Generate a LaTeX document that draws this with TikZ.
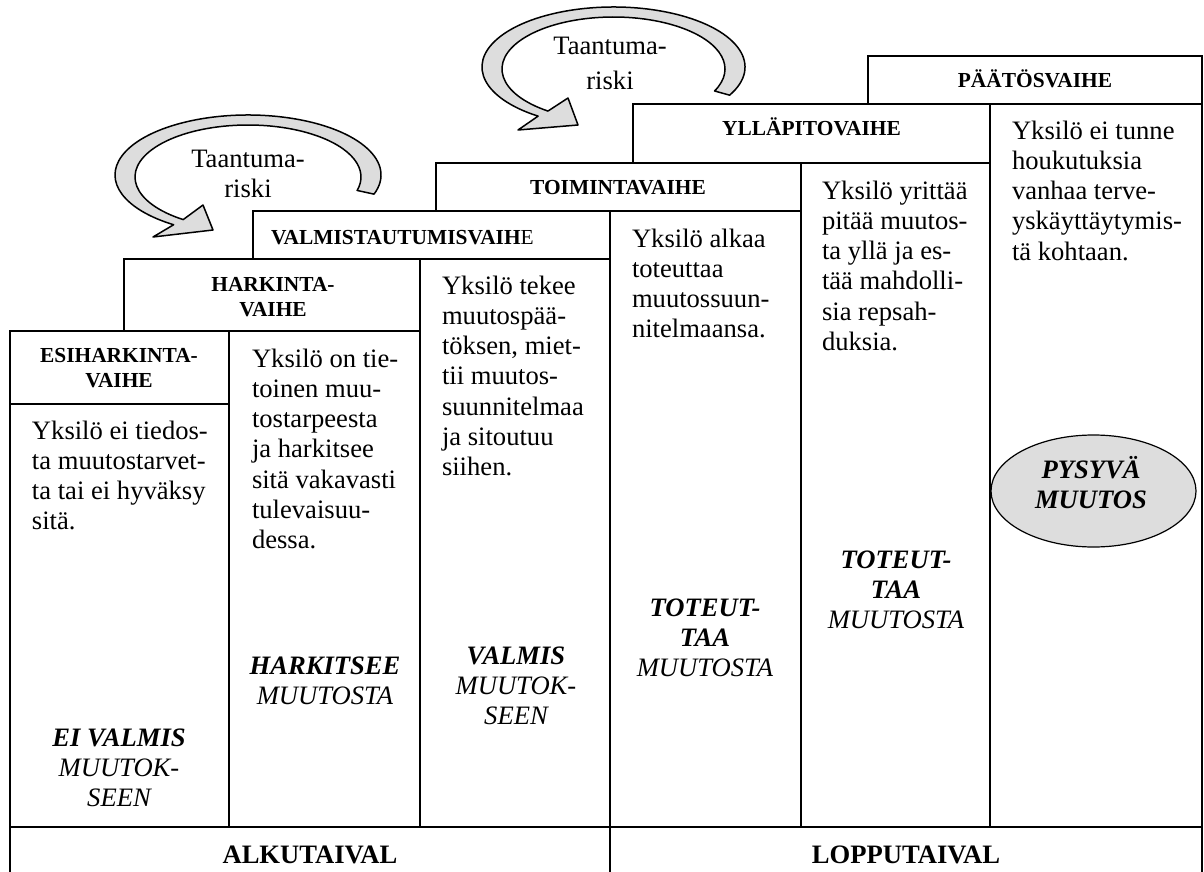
\documentclass[tikz,border=0pt]{standalone}
\usepackage{fontspec}
\setmainfont{Liberation Serif}
\usetikzlibrary{shapes.geometric}
\newcommand\tekstifont{\fontsize{13.3}{15.15}\selectfont}
\newcommand\vaihefont{\fontsize{10.7}{12.5}\selectfont\bfseries}
\newcommand\tuki{\rule{0pt}{12pt}}
\definecolor{riskigray}{RGB}{221,221,221}
\tikzstyle{vaihe} = [anchor=north, align=center, inner sep=0pt, font=\vaihefont]
\tikzstyle{kuvaus} = [anchor=north west, align=left, inner sep=0pt, font=\tekstifont]
\tikzstyle{tila} = [anchor=north, align=center, inner sep=0pt, font=\tekstifont\itshape]
\tikzstyle{taival} = [anchor=base, inner sep=0pt, font=\tekstifont\bfseries]
\tikzstyle{riski} = [draw, line width=0.75pt, fill=riskigray, line join=round]

\begin{document}
\begin{tikzpicture}[x=0.5pt, y=-0.5pt, line width=1pt]
                    \useasboundingbox (0,0) rectangle (1204,872);
                    % vaiheiden laatikot
                    \draw (10,331) rectangle (229,404);
                    \draw (124,259) rectangle (420,331);
                    \draw (253,211) rectangle (610,259);
                    \draw (436,163) rectangle (801,211);
                    \draw (633,104) rectangle (990,163);
                    \draw (868,56) rectangle (1202,104);
                    % sarakkeet ja alarivi
                    \draw (10,404) -- (10,872);
                    \draw (229,404) -- (229,827);
                    \draw (420,331) -- (420,827);
                    \draw (610,259) -- (610,872);
                    \draw (801,211) -- (801,827);
                    \draw (990,163) -- (990,827);
                    \draw (1202,104) -- (1202,872);
                    \draw (10,827) -- (1202,827);

                    \node[vaihe] (esi) at (119,337) {\tuki ESIHARKINTA-\\VAIHE};
                    \node[vaihe] (harkinta) at (273,266) {\tuki HARKINTA-\\VAIHE};
                    \node[vaihe, anchor=north west] (valmistautumis) at (270,219) {\tuki VALMISTAUTUMISVAIH{\mdseries E}};
                    \node[vaihe] (toiminta) at (618,169) {\tuki TOIMINTAVAIHE};
                    \node[vaihe] (yllapito) at (811.5,110) {\tuki YLLÄPITOVAIHE};
                    \node[vaihe] (paatos) at (1035,63) {\tuki PÄÄTÖSVAIHE};

                    \node[kuvaus] (k1) at (31,414) {\tuki Yksilö ei tiedos-\\ta muutostarvet-\\ta tai ei hyväksy\\sitä.};
                    \node[kuvaus] (k2) at (251,342) {\tuki Yksilö on tie-\\toinen muu-\\tostarpeesta\\ja harkitsee\\sitä vakavasti\\tulevaisuu-\\dessa.};
                    \node[kuvaus] (k3) at (441,269) {\tuki Yksilö tekee\\muutospää-\\töksen, miet-\\tii muutos-\\suunnitelmaa\\ja sitoutuu\\siihen.};
                    \node[kuvaus] (k4) at (631,222) {\tuki Yksilö alkaa\\toteuttaa\\muutossuun-\\nitelmaansa.};
                    \node[kuvaus] (k5) at (821,174) {\tuki Yksilö yrittää\\pitää muutos-\\ta yllä ja es-\\tää mahdolli-\\sia repsah-\\duksia.};
                    \node[kuvaus] (k6) at (1011,114) {\tuki Yksilö ei tunne\\houkutuksia\\vanhaa terve-\\yskäyttäytymis-\\tä kohtaan.};

                    \node[tila] (t1) at (119,721) {\tuki\textbf{EI VALMIS}\\MUUTOK-\\SEEN};
                    \node[tila] (t2) at (325,649) {\tuki\textbf{HARKITSEE}\\MUUTOSTA};
                    \node[tila] (t3) at (516,639) {\tuki\textbf{VALMIS}\\MUUTOK-\\SEEN};
                    \node[tila] (t4) at (705,591) {\tuki\textbf{TOTEUT-}\\\textbf{TAA}\\MUUTOSTA};
                    \node[tila] (t5) at (896,543) {\tuki\textbf{TOTEUT-}\\\textbf{TAA}\\MUUTOSTA};
                    \draw[line width=0.6pt, fill=riskigray] (1093.5,491) ellipse [x radius=102.5, y radius=56];
                    \node[tila] (pysyva) at (1091,453) {\tuki\textbf{PYSYVÄ}\\\textbf{MUUTOS}};

                    \node[taival] (alku) at (310,863) {ALKUTAIVAL};
                    \node[taival] (loppu) at (906,863) {LOPPUTAIVAL};

                    % taantumariskin nuolet
                    \draw[riski] ([shift={(248,175)}]18.6:133 and 60) arc[start angle=18.6, end angle=-236, x radius=133, y radius=60]
                        -- (153,237) -- (213,230) -- (203,205)
                        -- ([shift={(248,177)}]-235:113 and 52) arc[start angle=-235, end angle=15, x radius=113, y radius=52] -- cycle;
                    \draw[riski] ([shift={(613.5,67)}]28:131.5 and 60) arc[start angle=28, end angle=-235, x radius=131.5, y radius=60]
                        -- (518,130) -- (578,125) -- (568,98)
                        -- ([shift={(613.5,69)}]-234:111.5 and 52) arc[start angle=-234, end angle=25, x radius=111.5, y radius=52] -- cycle;
                    \node[kuvaus, anchor=north, align=center] (riski1) at (248,142) {\tuki Taantuma-\\riski};
                    \node[kuvaus, anchor=north, align=center] (riski2) at (610,30) {\tuki Taantuma-\\[2pt]riski};
                \end{tikzpicture}
\end{document}
